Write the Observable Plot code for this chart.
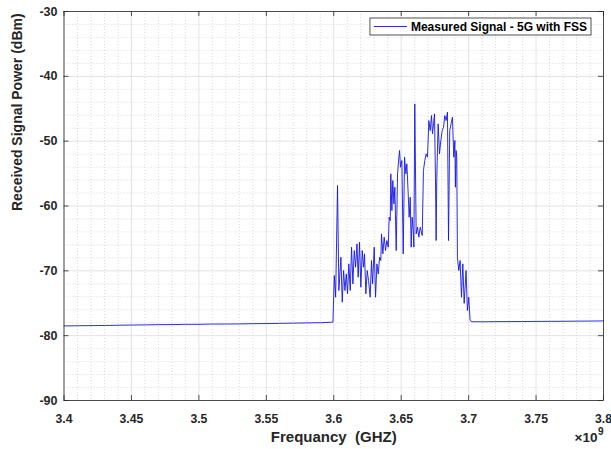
<!DOCTYPE html>
<html>
<head>
<meta charset="utf-8">
<script src="https://cdn.jsdelivr.net/npm/d3@7"></script>
<script src="https://cdn.jsdelivr.net/npm/@observablehq/plot@0.6"></script>
<style>
  html, body { margin: 0; padding: 0; background: #fff; }
  #chart svg text { white-space: pre; }
</style>
</head>
<body>
<div id="chart"></div>
<script>
// Swept spectrum: frequency in GHz (axis multiplier ×10^9 Hz), received power in dBm
const freqGHz = [
  3.400, 3.410, 3.420, 3.430, 3.440, 3.450, 3.460, 3.470, 3.480, 3.490,
  3.500, 3.510, 3.520, 3.530, 3.540, 3.550, 3.560, 3.570, 3.580, 3.590,
  3.5994, 3.6004, 3.6014, 3.6028, 3.6038, 3.6053, 3.6063, 3.6073, 3.6083, 3.6093,
  3.6102, 3.6112, 3.6122, 3.6132, 3.6142, 3.6152, 3.6162, 3.6172, 3.6181, 3.6191,
  3.6201, 3.6211, 3.6221, 3.6228, 3.6238, 3.6248, 3.6258, 3.6270, 3.6280, 3.6288,
  3.6300, 3.6310, 3.6320, 3.6330, 3.6340, 3.6349, 3.6354, 3.6364, 3.6374, 3.6384,
  3.6394, 3.6404, 3.6411, 3.6419, 3.6423, 3.6431, 3.6438, 3.6446, 3.6453, 3.6463,
  3.6473, 3.6483, 3.6488, 3.6495, 3.6505, 3.6515, 3.6525, 3.6535, 3.6542, 3.6552,
  3.6559, 3.6567, 3.6574, 3.6581, 3.6589, 3.6594, 3.6601, 3.6611, 3.6621, 3.6631,
  3.6641, 3.6656, 3.6665, 3.6675, 3.6685, 3.6695, 3.6705, 3.6715, 3.6725, 3.6732,
  3.6740, 3.6747, 3.6754, 3.6759, 3.6764, 3.6774, 3.6784, 3.6794, 3.6804, 3.6814,
  3.6823, 3.6833, 3.6843, 3.6851, 3.6860, 3.6870, 3.6880, 3.6890, 3.6898, 3.6902,
  3.6907, 3.6912, 3.6917, 3.6927, 3.6937, 3.6947, 3.6957, 3.6967, 3.6981, 3.6991,
  3.7001, 3.7011, 3.7025, 3.710, 3.720, 3.730, 3.740, 3.750, 3.760, 3.770,
  3.780, 3.790, 3.800
];
const powerDbm = [
  -78.50, -78.47, -78.45, -78.43, -78.39, -78.36, -78.34, -78.30, -78.29, -78.25,
  -78.25, -78.21, -78.20, -78.19, -78.15, -78.13, -78.10, -78.07, -78.03, -78.00,
  -77.92, -70.72, -74.07, -56.84, -73.04, -67.90, -74.84, -69.95, -73.04, -70.47,
  -73.55, -68.93, -73.04, -66.35, -72.01, -66.87, -69.44, -65.84, -70.98, -65.58,
  -72.52, -66.87, -69.44, -67.38, -73.55, -69.95, -71.50, -74.07, -68.41, -72.01,
  -66.35, -74.07, -68.93, -70.47, -67.90, -68.41, -64.30, -67.38, -64.81, -66.87,
  -65.33, -66.35, -61.73, -62.24, -55.04, -60.70, -56.07, -59.67, -57.10, -66.87,
  -55.04, -52.47, -51.44, -54.02, -52.99, -67.38, -52.47, -55.04, -53.50, -58.13,
  -61.73, -58.64, -66.35, -61.73, -63.78, -66.35, -44.25, -64.30, -63.27, -64.81,
  -63.27, -64.55, -54.53, -52.99, -51.96, -52.47, -46.82, -48.36, -46.05, -48.87,
  -47.33, -45.79, -55.56, -65.33, -55.56, -47.33, -51.96, -49.90, -48.36, -47.85,
  -46.05, -46.82, -45.53, -65.33, -48.36, -47.33, -46.30, -52.47, -49.90, -57.10,
  -51.44, -52.47, -67.90, -69.95, -68.41, -74.07, -68.93, -75.02, -69.95, -76.12,
  -74.07, -77.66, -77.85, -77.86, -77.84, -77.83, -77.82, -77.80, -77.79, -77.78,
  -77.76, -77.75, -77.72
];

const xTicks = [3.4, 3.45, 3.5, 3.55, 3.6, 3.65, 3.7, 3.75, 3.8];
const yTicks = [-90, -80, -70, -60, -50, -40, -30];
const xMinorStep = 0.01;
const yMinorStep = 2;

const seriesName = "Measured Signal - 5G with FSS";
const xLabel = "Frequancy  (GHZ)";
const yLabel = "Received Signal Power (dBm)";
const xExponent = "9";

const trace = freqGHz.map((f, i) => ({f, p: powerDbm[i]}));

const xDomain = [xTicks[0], xTicks[xTicks.length - 1]];
const yDomain = [yTicks[0], yTicks[yTicks.length - 1]];
const xMinor = d3.range(0, Math.round((xDomain[1] - xDomain[0]) / xMinorStep) + 1)
  .map(i => +(xDomain[0] + i * xMinorStep).toFixed(4));
const yMinor = d3.range(yDomain[0], yDomain[1] + 1e-9, yMinorStep);

const W = 611, H = 449;
const mL = 63.5, mR = 8, mT = 11, mB = 49;
const innerW = W - mL - mR, innerH = H - mT - mB;
// inward tick length of 5px expressed in data units
const tickX = 5 * (xDomain[1] - xDomain[0]) / innerW;
const tickY = 5 * (yDomain[1] - yDomain[0]) / innerH;

const axisColor = "#262626";
const traceColor = "#1414e6";
const font = "'Liberation Sans', Arial, Helvetica, sans-serif";

const chart = Plot.plot({
  width: W,
  height: H,
  marginLeft: mL,
  marginRight: mR,
  marginTop: mT,
  marginBottom: mB,
  style: {fontFamily: font, fontWeight: "bold", color: axisColor, background: "#fff", overflow: "visible"},
  x: {domain: xDomain},
  y: {domain: yDomain},
  marks: [
    // minor grid (dotted)
    Plot.ruleX(xMinor.filter(v => !xTicks.some(t => Math.abs(t - v) < 1e-6)),
      {stroke: "#c8c8c8", strokeWidth: 0.7, strokeDasharray: "1,2"}),
    Plot.ruleY(yMinor.filter(v => !yTicks.includes(v)),
      {stroke: "#c8c8c8", strokeWidth: 0.7, strokeDasharray: "1,2"}),
    // major grid
    Plot.ruleX(xTicks, {stroke: "#dcdcdc", strokeWidth: 0.8}),
    Plot.ruleY(yTicks, {stroke: "#dcdcdc", strokeWidth: 0.8}),
    // signal trace
    Plot.line(trace, {x: "f", y: "p", stroke: traceColor, strokeWidth: 0.9}),
    // box
    Plot.frame({stroke: axisColor, strokeWidth: 0.8}),
    // inward ticks on all four sides
    Plot.ruleX(xTicks, {y1: yDomain[0], y2: yDomain[0] + tickY, stroke: axisColor, strokeWidth: 0.8}),
    Plot.ruleX(xTicks, {y1: yDomain[1], y2: yDomain[1] - tickY, stroke: axisColor, strokeWidth: 0.8}),
    Plot.ruleY(yTicks, {x1: xDomain[0], x2: xDomain[0] + tickX, stroke: axisColor, strokeWidth: 0.8}),
    Plot.ruleY(yTicks, {x1: xDomain[1], x2: xDomain[1] - tickX, stroke: axisColor, strokeWidth: 0.8}),
    // tick labels
    Plot.axisX(xTicks, {tickSize: 0, tickPadding: 14, fontSize: 12.2, fontWeight: "bold",
      tickFormat: d => String(+d.toFixed(2)), label: null}),
    Plot.axisY(yTicks, {tickSize: 0, tickPadding: 6.5, fontSize: 12.5, fontWeight: "bold",
      tickFormat: d => String(d), label: null}),
    // axis titles
    Plot.text([xLabel], {frameAnchor: "bottom", dy: 41.5, fontSize: 15, fontWeight: "bold", fill: axisColor}),
    Plot.text([yLabel], {frameAnchor: "left", rotate: -90, dx: -46, dy: 5, fontSize: 14, fontWeight: "bold", fill: axisColor}),
    // axis multiplier ×10^9
    Plot.text(["\u00d710"], {frameAnchor: "bottom-right", textAnchor: "end", dx: -6, dy: 41, fontSize: 13.5, fontWeight: "bold", fill: axisColor}),
    Plot.text([xExponent], {frameAnchor: "bottom-right", textAnchor: "start", dx: -5.5, dy: 34, fontSize: 10, fontWeight: "bold", fill: axisColor})
  ]
});

document.getElementById("chart").appendChild(chart);

// legend box in the top-right corner of the axes
const svg = d3.select(chart);
const lg = svg.append("g")
  .attr("font-family", font)
  .attr("font-weight", "bold")
  .attr("text-anchor", "start");
const lgRight = W - mR - 12, lgTop = mT + 7, lgH = 17;
const label = lg.append("text")
  .attr("font-size", 12)
  .attr("fill", "#000")
  .attr("text-anchor", "start")
  .attr("dominant-baseline", "central")
  .text(seriesName);
const tw = label.node().getComputedTextLength();
const sampleLen = 33, pad = 4;
const lgW = pad + sampleLen + 4 + tw + pad;
const lgLeft = lgRight - lgW;
lg.insert("rect", "text")
  .attr("x", lgLeft).attr("y", lgTop).attr("width", lgW).attr("height", lgH)
  .attr("fill", "#fff").attr("stroke", axisColor).attr("stroke-width", 0.8);
lg.insert("line", "text")
  .attr("x1", lgLeft + pad).attr("x2", lgLeft + pad + sampleLen)
  .attr("y1", lgTop + lgH / 2).attr("y2", lgTop + lgH / 2)
  .attr("stroke", traceColor).attr("stroke-width", 0.9);
label.attr("x", lgLeft + pad + sampleLen + 4).attr("y", lgTop + lgH / 2 + 0.5);
</script>
</body>
</html>
